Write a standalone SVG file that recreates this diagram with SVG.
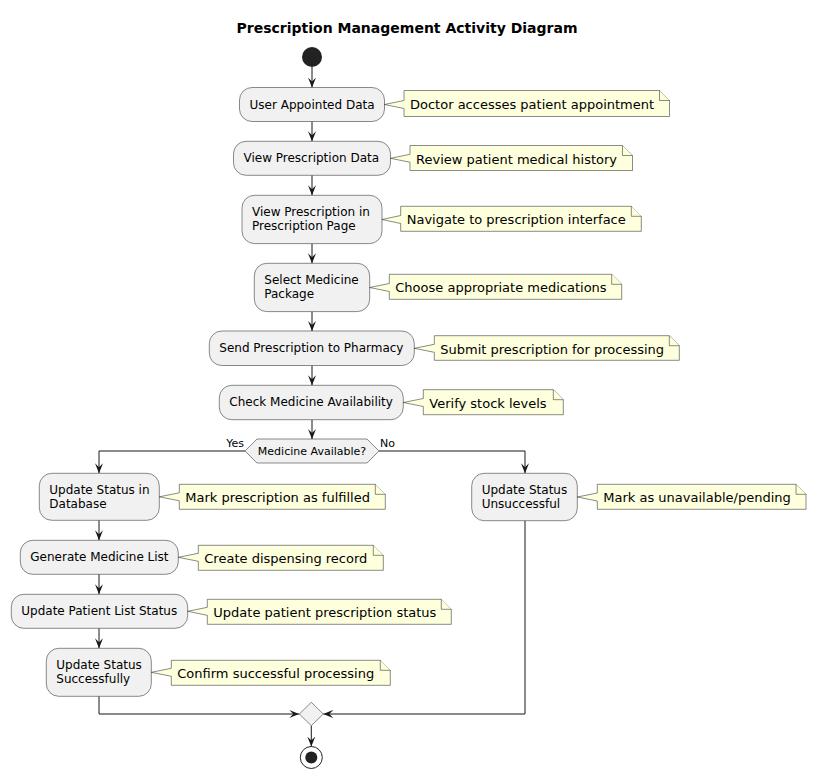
<svg xmlns="http://www.w3.org/2000/svg" width="816" height="778" viewBox="0 0 816 778">
<style>
.box{fill:#F1F1F1;stroke:#181818;stroke-width:0.5}
.note{fill:#FEFFDD;stroke:#181818;stroke-width:0.5}
.t{font-family:"DejaVu Sans",Verdana,sans-serif;font-size:12px;fill:#000}
.nt{font-family:"DejaVu Sans",Verdana,sans-serif;font-size:13px;fill:#000}
.s{font-family:"DejaVu Sans",Verdana,sans-serif;font-size:11px;fill:#000}
.title{font-family:"DejaVu Sans",Verdana,sans-serif;font-size:14px;font-weight:bold;fill:#000}
.edge{fill:none;stroke:#181818;stroke-width:1;marker-end:url(#arr)}
</style>
<defs>
<marker id="arr" viewBox="0 0 10 8" refX="10" refY="4" markerWidth="10" markerHeight="8" markerUnits="userSpaceOnUse" orient="auto">
<path d="M0,0 L10,4 L0,8 L4,4 Z" fill="#181818"/>
</marker>
</defs>
<rect width="816" height="778" fill="#FFFFFF"/>
<text class="title" x="407" y="32.5" text-anchor="middle">Prescription Management Activity Diagram</text>

<g id="connectors">
<path class="edge" d="M312,67 V87.5"/>
<path class="edge" d="M312,121.5 V141.3"/>
<path class="edge" d="M312,175.3 V195.3"/>
<path class="edge" d="M312,243.6 V263.3"/>
<path class="edge" d="M312,311.6 V331"/>
<path class="edge" d="M312,365.5 V385.3"/>
<path class="edge" d="M312,419.7 V439"/>
<path class="edge" d="M245,451 H99 V473.3"/>
<path class="edge" d="M379,451 H525 V473.3"/>
<path class="edge" d="M99,520.3 V540.3"/>
<path class="edge" d="M99,574.3 V594.3"/>
<path class="edge" d="M99,628.3 V648.3"/>
<path class="edge" d="M99,696.3 V714 H299.3"/>
<path class="edge" d="M525,520.7 V714 H323.3"/>
<path class="edge" d="M311.3,725.7 V746.5"/>
<text class="s" x="244" y="447" text-anchor="end">Yes</text>
<text class="s" x="380" y="447">No</text>
</g>

<g id="start"><circle cx="312" cy="57" r="10" fill="#222222"/></g>

<g id="n1">
<rect class="box" x="239.5" y="87.5" width="145" height="34" rx="12.5"/>
<text class="t" x="249.5" y="108.5">User Appointed Data</text>
</g>
<g id="note1">
<path class="note" d="M404,90.5 L404,100.5 L384.5,104.5 L404,108.5 L404,116.5 L669.5,116.5 L669.5,100.5 L659.5,90.5 Z"/>
<path class="note" d="M659.5,90.5 L659.5,100.5 L669.5,100.5"/>
<text class="nt" x="410" y="108.5">Doctor accesses patient appointment</text>
</g>

<g id="n2">
<rect class="box" x="233.5" y="141.3" width="157" height="34" rx="12.5"/>
<text class="t" x="243.5" y="162.3">View Prescription Data</text>
</g>
<g id="note2">
<path class="note" d="M410,145.5 L410,154.3 L390.5,158.3 L410,162.3 L410,170.5 L632.5,170.5 L632.5,155.5 L622.5,145.5 Z"/>
<path class="note" d="M622.5,145.5 L622.5,155.5 L632.5,155.5"/>
<text class="nt" x="416" y="163.5">Review patient medical history</text>
</g>

<g id="n3">
<rect class="box" x="242" y="195.3" width="140" height="48.3" rx="12.5"/>
<text class="t" x="252" y="215.5">View Prescription in</text>
<text class="t" x="252" y="229.8">Prescription Page</text>
</g>
<g id="note3">
<path class="note" d="M400.7,206.3 L400.7,215.5 L382,219.5 L400.7,223.5 L400.7,231.3 L641.3,231.3 L641.3,216.3 L631.3,206.3 Z"/>
<path class="note" d="M631.3,206.3 L631.3,216.3 L641.3,216.3"/>
<text class="nt" x="406.7" y="224.3">Navigate to prescription interface</text>
</g>

<g id="n4">
<rect class="box" x="254.3" y="263.3" width="115.4" height="48.3" rx="12.5"/>
<text class="t" x="264.3" y="283.5">Select Medicine</text>
<text class="t" x="264.3" y="297.8">Package</text>
</g>
<g id="note4">
<path class="note" d="M389.3,274.3 L389.3,283.5 L369.7,287.5 L389.3,291.5 L389.3,299.3 L621.7,299.3 L621.7,284.3 L611.7,274.3 Z"/>
<path class="note" d="M611.7,274.3 L611.7,284.3 L621.7,284.3"/>
<text class="nt" x="395.3" y="292.3">Choose appropriate medications</text>
</g>

<g id="n5">
<rect class="box" x="209.3" y="331" width="205" height="34.5" rx="12.5"/>
<text class="t" x="219.3" y="352">Send Prescription to Pharmacy</text>
</g>
<g id="note5">
<path class="note" d="M434.3,335.7 L434.3,344.3 L414.3,348.3 L434.3,352.3 L434.3,360.3 L679.3,360.3 L679.3,345.7 L669.3,335.7 Z"/>
<path class="note" d="M669.3,335.7 L669.3,345.7 L679.3,345.7"/>
<text class="nt" x="440.3" y="353.5">Submit prescription for processing</text>
</g>

<g id="n6">
<rect class="box" x="219.3" y="385.3" width="184" height="34.4" rx="12.5"/>
<text class="t" x="229.3" y="406.3">Check Medicine Availability</text>
</g>
<g id="note6">
<path class="note" d="M423.3,389.7 L423.3,398.5 L403.3,402.5 L423.3,406.5 L423.3,414.7 L563.3,414.7 L563.3,399.7 L553.3,389.7 Z"/>
<path class="note" d="M553.3,389.7 L553.3,399.7 L563.3,399.7"/>
<text class="nt" x="429.3" y="407.5">Verify stock levels</text>
</g>

<g id="decision">
<polygon class="box" points="245,451 257,439 367,439 379,451 367,463 257,463"/>
<text class="s" x="312" y="455" text-anchor="middle">Medicine Available?</text>
</g>

<g id="l1">
<rect class="box" x="39.3" y="473.3" width="120" height="47" rx="12.5"/>
<text class="t" x="49.3" y="493.5">Update Status in</text>
<text class="t" x="49.3" y="507.8">Database</text>
</g>
<g id="notel1">
<path class="note" d="M179.3,484.3 L179.3,492.8 L159.3,496.8 L179.3,500.8 L179.3,509.3 L385.3,509.3 L385.3,494.3 L375.3,484.3 Z"/>
<path class="note" d="M375.3,484.3 L375.3,494.3 L385.3,494.3"/>
<text class="nt" x="185.3" y="502.3">Mark prescription as fulfilled</text>
</g>

<g id="l2">
<rect class="box" x="20.3" y="540.3" width="158" height="34" rx="12.5"/>
<text class="t" x="30.3" y="561.3">Generate Medicine List</text>
</g>
<g id="notel2">
<path class="note" d="M198.3,545.3 L198.3,553.3 L178.3,557.3 L198.3,561.3 L198.3,570.3 L383.3,570.3 L383.3,555.3 L373.3,545.3 Z"/>
<path class="note" d="M373.3,545.3 L373.3,555.3 L383.3,555.3"/>
<text class="nt" x="204.3" y="563.3">Create dispensing record</text>
</g>

<g id="l3">
<rect class="box" x="11.3" y="594.3" width="176.4" height="34" rx="12.5"/>
<text class="t" x="21.3" y="615.3">Update Patient List Status</text>
</g>
<g id="notel3">
<path class="note" d="M207.3,599.3 L207.3,607.3 L187.7,611.3 L207.3,615.3 L207.3,624.3 L451.3,624.3 L451.3,609.3 L441.3,599.3 Z"/>
<path class="note" d="M441.3,599.3 L441.3,609.3 L451.3,609.3"/>
<text class="nt" x="213.3" y="617.3">Update patient prescription status</text>
</g>

<g id="l4">
<rect class="box" x="46.3" y="648.3" width="105" height="48" rx="12.5"/>
<text class="t" x="56.3" y="668.5">Update Status</text>
<text class="t" x="56.3" y="682.8">Successfully</text>
</g>
<g id="notel4">
<path class="note" d="M171.3,660.3 L171.3,668.3 L151.3,672.3 L171.3,676.3 L171.3,685.3 L390.3,685.3 L390.3,670.3 L380.3,660.3 Z"/>
<path class="note" d="M380.3,660.3 L380.3,670.3 L390.3,670.3"/>
<text class="nt" x="177.3" y="678.3">Confirm successful processing</text>
</g>

<g id="r1">
<rect class="box" x="471.7" y="473.3" width="105.6" height="47.4" rx="12.5"/>
<text class="t" x="481.7" y="493.5">Update Status</text>
<text class="t" x="481.7" y="507.8">Unsuccessful</text>
</g>
<g id="noter1">
<path class="note" d="M597.3,484.3 L597.3,493 L577.3,497 L597.3,501 L597.3,509.3 L806,509.3 L806,494.3 L796,484.3 Z"/>
<path class="note" d="M796,484.3 L796,494.3 L806,494.3"/>
<text class="nt" x="603.3" y="502.3">Mark as unavailable/pending</text>
</g>

<g id="merge">
<polygon class="box" points="311.3,702.3 323.3,714 311.3,725.7 299.3,714"/>
</g>

<g id="end">
<circle cx="311.3" cy="757.5" r="11" fill="none" stroke="#222222" stroke-width="1"/>
<circle cx="311.3" cy="757.5" r="6" fill="#222222"/>
</g>
</svg>
